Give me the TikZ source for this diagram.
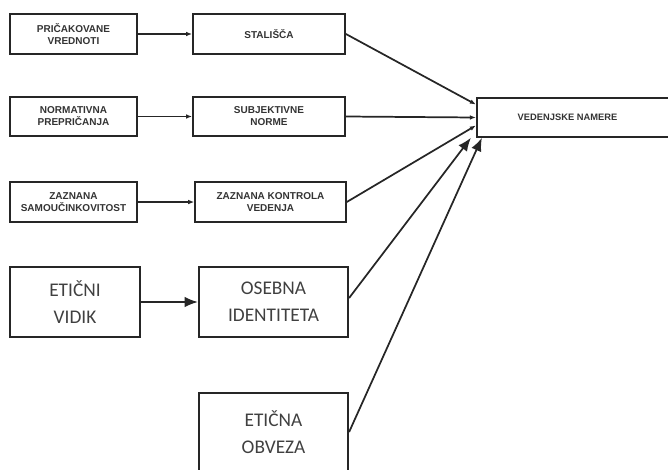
\documentclass[tikz,border=0pt]{standalone}
\usepackage{fontspec}
\setmainfont{Liberation Sans}
\newfontfamily\calfont{Carlito}
\usetikzlibrary{arrows.meta,calc}

\begin{document}
\begin{tikzpicture}[x=0.75pt, y=-0.75pt,
  line width=1.3pt, draw=black!85,
  malo/.style={draw, line width=1.4pt, align=center, inner sep=0pt,
    font=\bfseries\fontsize{7.5}{9}\selectfont, text=black!80},
  veliko/.style={draw, line width=1.4pt, align=center, inner sep=0pt,
    font=\calfont\fontsize{14.5}{20}\selectfont, text=black!75},
  puscica/.style={-{Latex[length=4.5pt,width=3.5pt]}},
  puscicav/.style={-{Latex[length=10pt,width=8pt]}}]

\useasboundingbox (0,0) rectangle (668,469);
\clip (0,0) rectangle (668,469);

\node[malo, minimum width=95pt, minimum height=30pt] (prvr) at (73.5,34) {PRIČAKOVANE\\VREDNOTI};
\node[malo, minimum width=114pt, minimum height=30pt] (stal) at (269,34) {STALIŠČA};
\node[malo, minimum width=95pt, minimum height=29pt] (norm) at (73.5,116.5) {NORMATIVNA\\PREPRIČANJA};
\node[malo, minimum width=114pt, minimum height=29pt] (subj) at (269,116.5) {SUBJEKTIVNE\\NORME};
\node[malo, minimum width=95pt, minimum height=30pt] (samo) at (73.5,202) {ZAZNANA\\SAMOUČINKOVITOST};
\node[malo, minimum width=113pt, minimum height=30pt] (kont) at (270.5,202) {ZAZNANA KONTROLA\\VEDENJA};
\node[malo, font=\bfseries\fontsize{7}{9}\selectfont, minimum width=160pt, minimum height=29pt] (vede) at (583.5,117.5) {VEDENJSKE NAMERE\hspace{24pt}};

\node[veliko, minimum width=97.5pt, minimum height=52.5pt] (vidik) at (75,302) {ETIČNI\\VIDIK};
\node[veliko, minimum width=112pt, minimum height=52.5pt] (osid) at (273.5,302) {OSEBNA\\IDENTITETA};
\node[veliko, minimum width=112pt, minimum height=58.5pt] (obv) at (273.5,432) {ETIČNA\\OBVEZA};

\coordinate (v1) at ($(vede.west)+(0,-13)$);
\coordinate (v2) at (vede.west);
\coordinate (v3) at ($(vede.west)+(0,8)$);
\coordinate (v4) at ($(vede.south west)+(-5,0)$);
\coordinate (v5) at ($(vede.south west)+(6,0)$);

\draw[puscica] (prvr) -- (stal);
\draw[puscica] (norm) -- (subj);
\draw[puscica] (samo) -- (kont);
\draw[puscicav] (vidik) -- (osid);

\draw[puscica] (stal.east) -- (v1);
\draw[puscica] (subj.east) -- (v2);
\draw[puscica] (kont.east) -- (v3);
\draw[puscicav] ($(osid.east)+(0,-4)$) -- (v4);
\draw[puscicav] (obv.east) -- (v5);
\end{tikzpicture}
\end{document}
